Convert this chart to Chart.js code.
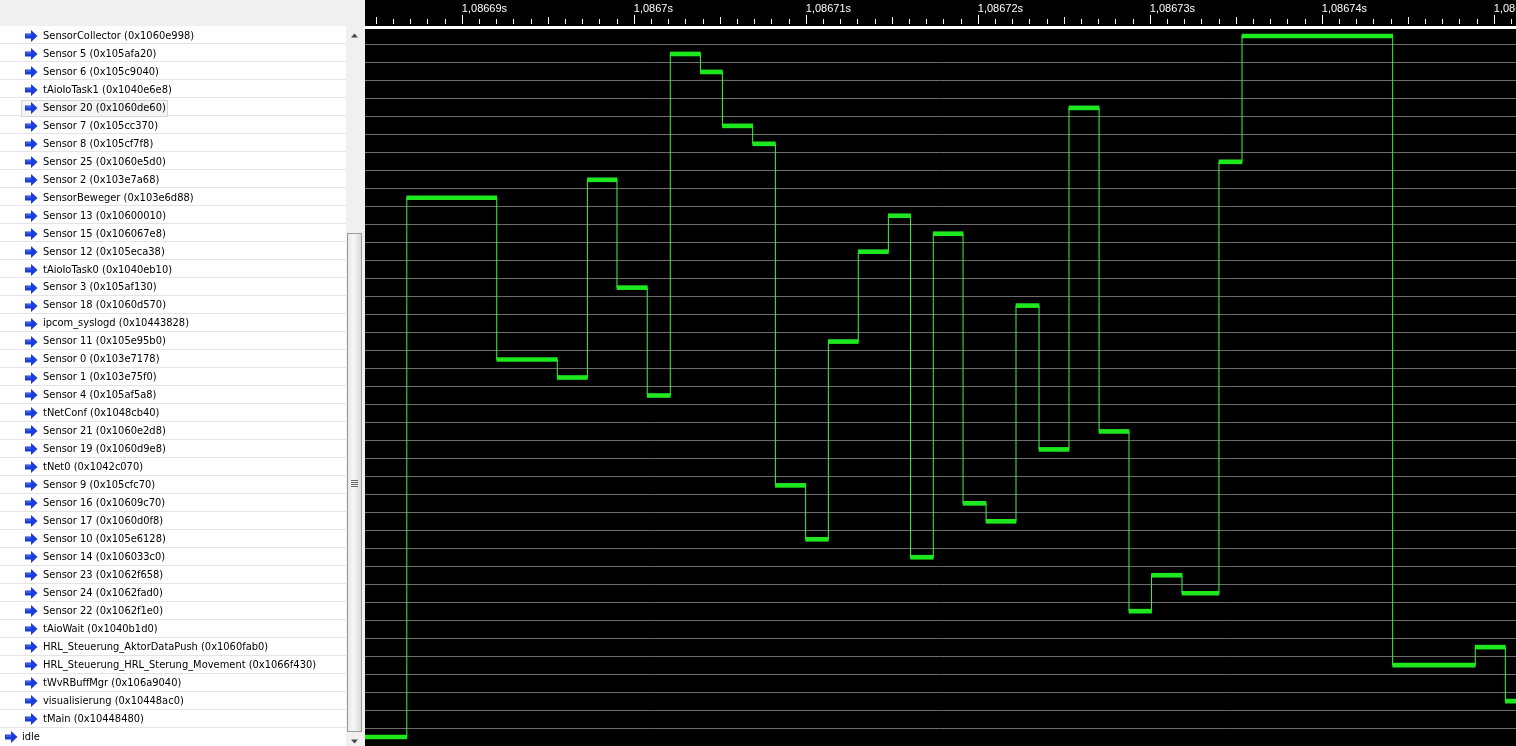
<!DOCTYPE html>
<html lang="de">
<head>
<meta charset="utf-8">
<title>Task trace</title>
<script src="https://cdn.jsdelivr.net/npm/chart.js@4.4.1/dist/chart.umd.min.js"></script>
<style>
  html, body { margin: 0; padding: 0; overflow: hidden; background: #f0f0f0; }
  #traceWrap { position: relative; width: 1516px; height: 746px; }
</style>
</head>
<body>
<div id="traceWrap"><canvas id="chartTaskTrace"></canvas></div>
<script>
// Tasks, top to bottom as listed in the panel
const taskNames = [
  'SensorCollector (0x1060e998)',
  'Sensor 5 (0x105afa20)',
  'Sensor 6 (0x105c9040)',
  'tAioIoTask1 (0x1040e6e8)',
  'Sensor 20 (0x1060de60)',
  'Sensor 7 (0x105cc370)',
  'Sensor 8 (0x105cf7f8)',
  'Sensor 25 (0x1060e5d0)',
  'Sensor 2 (0x103e7a68)',
  'SensorBeweger (0x103e6d88)',
  'Sensor 13 (0x10600010)',
  'Sensor 15 (0x106067e8)',
  'Sensor 12 (0x105eca38)',
  'tAioIoTask0 (0x1040eb10)',
  'Sensor 3 (0x105af130)',
  'Sensor 18 (0x1060d570)',
  'ipcom_syslogd (0x10443828)',
  'Sensor 11 (0x105e95b0)',
  'Sensor 0 (0x103e7178)',
  'Sensor 1 (0x103e75f0)',
  'Sensor 4 (0x105af5a8)',
  'tNetConf (0x1048cb40)',
  'Sensor 21 (0x1060e2d8)',
  'Sensor 19 (0x1060d9e8)',
  'tNet0 (0x1042c070)',
  'Sensor 9 (0x105cfc70)',
  'Sensor 16 (0x10609c70)',
  'Sensor 17 (0x1060d0f8)',
  'Sensor 10 (0x105e6128)',
  'Sensor 14 (0x106033c0)',
  'Sensor 23 (0x1062f658)',
  'Sensor 24 (0x1062fad0)',
  'Sensor 22 (0x1062f1e0)',
  'tAioWait (0x1040b1d0)',
  'HRL_Steuerung_AktorDataPush (0x1060fab0)',
  'HRL_Steuerung_HRL_Sterung_Movement (0x1066f430)',
  'tWvRBuffMgr (0x106a9040)',
  'visualisierung (0x10448ac0)',
  'tMain (0x10448480)',
  'idle'
];

// Context switch times in microseconds (last value = end of the last slice)
const switchTimes = [
  1086682.00, 1086686.80, 1086692.03, 1086695.55, 1086697.30, 1086699.02,
  1086700.78, 1086702.12, 1086703.87, 1086705.15, 1086706.91, 1086708.23,
  1086709.99, 1086711.31, 1086713.05, 1086714.80, 1086716.09, 1086717.41,
  1086719.14, 1086720.48, 1086722.22, 1086723.56, 1086725.30, 1086727.05,
  1086728.79, 1086730.10, 1086731.87, 1086734.02, 1086735.36, 1086744.12,
  1086748.92, 1086750.67, 1086753.00
];

// Task running in each slice (index into taskNames)
const runningTask = [
  39, 9, 18, 19, 8, 14, 20, 1, 2, 5, 6, 25, 28, 17, 12, 10,
  29, 11, 26, 27, 15, 23, 4, 22, 32, 30, 31, 7, 0, 35, 34, 37
];

// Visible time window in microseconds
const timeMin = 1086684.37;
const timeMax = 1086751.29;

// Row with the hover frame in the task list
const hoveredTask = 4;

const TraceChart = (function () {
  let chart = null;
  const canvas = document.getElementById('chartTaskTrace');

  // Panel geometry
  const listRight = 346;
  const plotLeft = 365;
  const labelX = 43;
  const idleLabelX = 22;
  const axisHeight = 27;

  /**
   * Formats a time in µs as "1,08669s"
   */
  function formatTime(us) {
    const s = (Math.round(us) / 1e6).toFixed(5).replace(/0+$/, '').replace('.', ',');
    return s + 's';
  }

  /**
   * Blue arrow icon of the task list
   */
  function drawArrow(ctx, x, cy) {
    ctx.beginPath();
    ctx.moveTo(x, cy - 2.5);
    ctx.lineTo(x + 6, cy - 2.5);
    ctx.lineTo(x + 6, cy - 6);
    ctx.lineTo(x + 12.5, cy);
    ctx.lineTo(x + 6, cy + 6);
    ctx.lineTo(x + 6, cy + 2.5);
    ctx.lineTo(x, cy + 2.5);
    ctx.closePath();
    ctx.fillStyle = '#1b3cdc';
    ctx.fill();
    ctx.fillStyle = '#5a78f0';
    ctx.fillRect(x + 1, cy - 1.5, 5, 1);
  }

  /**
   * Scrollbar at the right edge of the task list
   */
  function drawScrollbar(ctx, height) {
    ctx.fillStyle = '#f0f0f0';
    ctx.fillRect(listRight, 0, plotLeft - listRight, height);

    const g = ctx.createLinearGradient(347, 0, 362, 0);
    g.addColorStop(0, '#e6e6e6');
    g.addColorStop(0.45, '#f7f7f7');
    g.addColorStop(1, '#d6d6d6');
    ctx.fillStyle = g;
    ctx.fillRect(347.5, 233.5, 14, 498);
    ctx.strokeStyle = '#9a9a9a';
    ctx.lineWidth = 1;
    ctx.strokeRect(347.5, 233.5, 14, 498);

    ctx.strokeStyle = '#6a6a6a';
    [480.5, 482.5, 484.5, 486.5].forEach(y => {
      ctx.beginPath();
      ctx.moveTo(351, y);
      ctx.lineTo(358, y);
      ctx.stroke();
    });

    ctx.fillStyle = '#4a4a4a';
    ctx.beginPath();
    ctx.moveTo(351, 37.5); ctx.lineTo(358, 37.5); ctx.lineTo(354.5, 33.5);
    ctx.closePath(); ctx.fill();
    ctx.beginPath();
    ctx.moveTo(351, 739.5); ctx.lineTo(358, 739.5); ctx.lineTo(354.5, 743.5);
    ctx.closePath(); ctx.fill();
  }

  // Backgrounds, task list decoration and time axis tick marks
  const panelPlugin = {
    id: 'tracePanel',
    beforeDraw(c) {
      const ctx = c.ctx;
      const area = c.chartArea;
      const ys = c.scales.y;
      const xs = c.scales.x;
      ctx.save();

      ctx.fillStyle = '#f0f0f0';
      ctx.fillRect(0, 0, c.width, c.height);

      // task list
      ctx.fillStyle = '#ffffff';
      ctx.fillRect(0, area.top - 1, listRight, c.height);
      ctx.strokeStyle = '#e4e4e4';
      ctx.lineWidth = 1;
      for (let i = 1; i < taskNames.length; i++) {
        const y = Math.round(ys.getPixelForTick(i) - 9.5) - 0.5;
        ctx.beginPath();
        ctx.moveTo(0, y);
        ctx.lineTo(listRight, y);
        ctx.stroke();
      }

      // hover frame
      const hy = Math.round(ys.getPixelForTick(hoveredTask));
      ctx.fillStyle = '#f4f4f4';
      ctx.fillRect(21.5, hy - 7.5, 146, 16);
      ctx.strokeStyle = '#d6d6d6';
      ctx.strokeRect(21.5, hy - 7.5, 146, 16);

      taskNames.forEach((name, i) => {
        const cy = Math.round(ys.getPixelForTick(i));
        drawArrow(ctx, name === 'idle' ? 5 : 25, cy);
      });

      drawScrollbar(ctx, c.height);

      // plot area
      ctx.fillStyle = '#000000';
      ctx.fillRect(plotLeft, 0, c.width - plotLeft, c.height);

      // tick marks of the time axis
      ctx.strokeStyle = '#ffffff';
      ctx.lineWidth = 1;
      xs.ticks.forEach(t => {
        const v = Math.round(t.value);
        const px = Math.round(xs.getPixelForValue(t.value)) + 0.5;
        let top = 19;
        if (v % 10 === 0) top = 15;
        else if (v % 5 === 0) top = 17;
        ctx.beginPath();
        ctx.moveTo(px, top);
        ctx.lineTo(px, 24);
        ctx.stroke();
      });

      // child tasks are indented, "idle" is the top level entry
      try {
        const items = ys.getLabelItems(area);
        items.forEach(it => {
          it.options.translation[0] = it.label === 'idle' ? idleLabelX : labelX;
        });
      } catch (e) {
        console.warn('[TraceChart] label items not available', e);
      }

      ctx.restore();
    }
  };

  /**
   * Builds the datasets from the switch list
   */
  function buildDatasets() {
    const last = runningTask.length - 1;
    const slices = runningTask.map((row, i) => ({
      x: [switchTimes[i], switchTimes[i + 1]],
      y: taskNames[row]
    }));
    const steps = runningTask.map((row, i) => ({ x: switchTimes[i], y: taskNames[row] }));
    steps.push({ x: switchTimes[last + 1], y: taskNames[runningTask[last]] });

    return [
      {
        type: 'bar',
        label: 'running',
        indexAxis: 'y',
        data: slices,
        backgroundColor: '#1ee81e',
        borderWidth: 0,
        barThickness: 4,
        order: 0
      },
      {
        type: 'line',
        label: 'switch',
        indexAxis: 'x',
        data: steps,
        stepped: true,
        borderColor: '#44f044',
        borderWidth: 1,
        pointRadius: 0,
        fill: false,
        order: 1
      }
    ];
  }

  function init() {
    if (!canvas) {
      console.error('[TraceChart] Canvas element not found');
      return;
    }

    chart = new Chart(canvas.getContext('2d'), {
      type: 'bar',
      data: { datasets: buildDatasets() },
      options: {
        indexAxis: 'y',
        responsive: true,
        maintainAspectRatio: false,
        animation: false,
        events: [],
        layout: { padding: { left: idleLabelX, top: 0, right: 0, bottom: 0 } },
        plugins: {
          legend: { display: false },
          tooltip: { enabled: false }
        },
        scales: {
          x: {
            type: 'linear',
            position: 'top',
            min: timeMin,
            max: timeMax,
            grid: { display: false, drawTicks: false },
            border: { display: true, color: '#ffffff', width: 3 },
            ticks: {
              stepSize: 1,
              autoSkip: false,
              maxRotation: 0,
              includeBounds: false,
              align: 'start',
              padding: 11,
              color: '#ffffff',
              font: { family: 'Liberation Sans', size: 11 },
              callback: v => (Math.round(v) % 10 === 0 ? formatTime(v) : '')
            },
            afterFit(scale) {
              scale.height = axisHeight;
              scale.paddingLeft = 0;
              scale.paddingRight = 0;
            }
          },
          y: {
            type: 'category',
            position: 'left',
            labels: taskNames,
            offset: true,
            grid: { color: '#6e6e6e', lineWidth: 1, drawTicks: false, offset: true },
            border: { display: false },
            ticks: {
              autoSkip: false,
              crossAlign: 'far',
              padding: 0,
              color: '#000000',
              font: { family: "'DejaVu Sans Condensed', 'DejaVu Sans'", size: 11 }
            },
            afterFit(scale) {
              scale.width = plotLeft - idleLabelX;
              scale.paddingTop = 0;
              scale.paddingBottom = 0;
            }
          }
        }
      },
      plugins: [panelPlugin]
    });
  }

  return { init: init };
})();

TraceChart.init();
</script>
</body>
</html>
